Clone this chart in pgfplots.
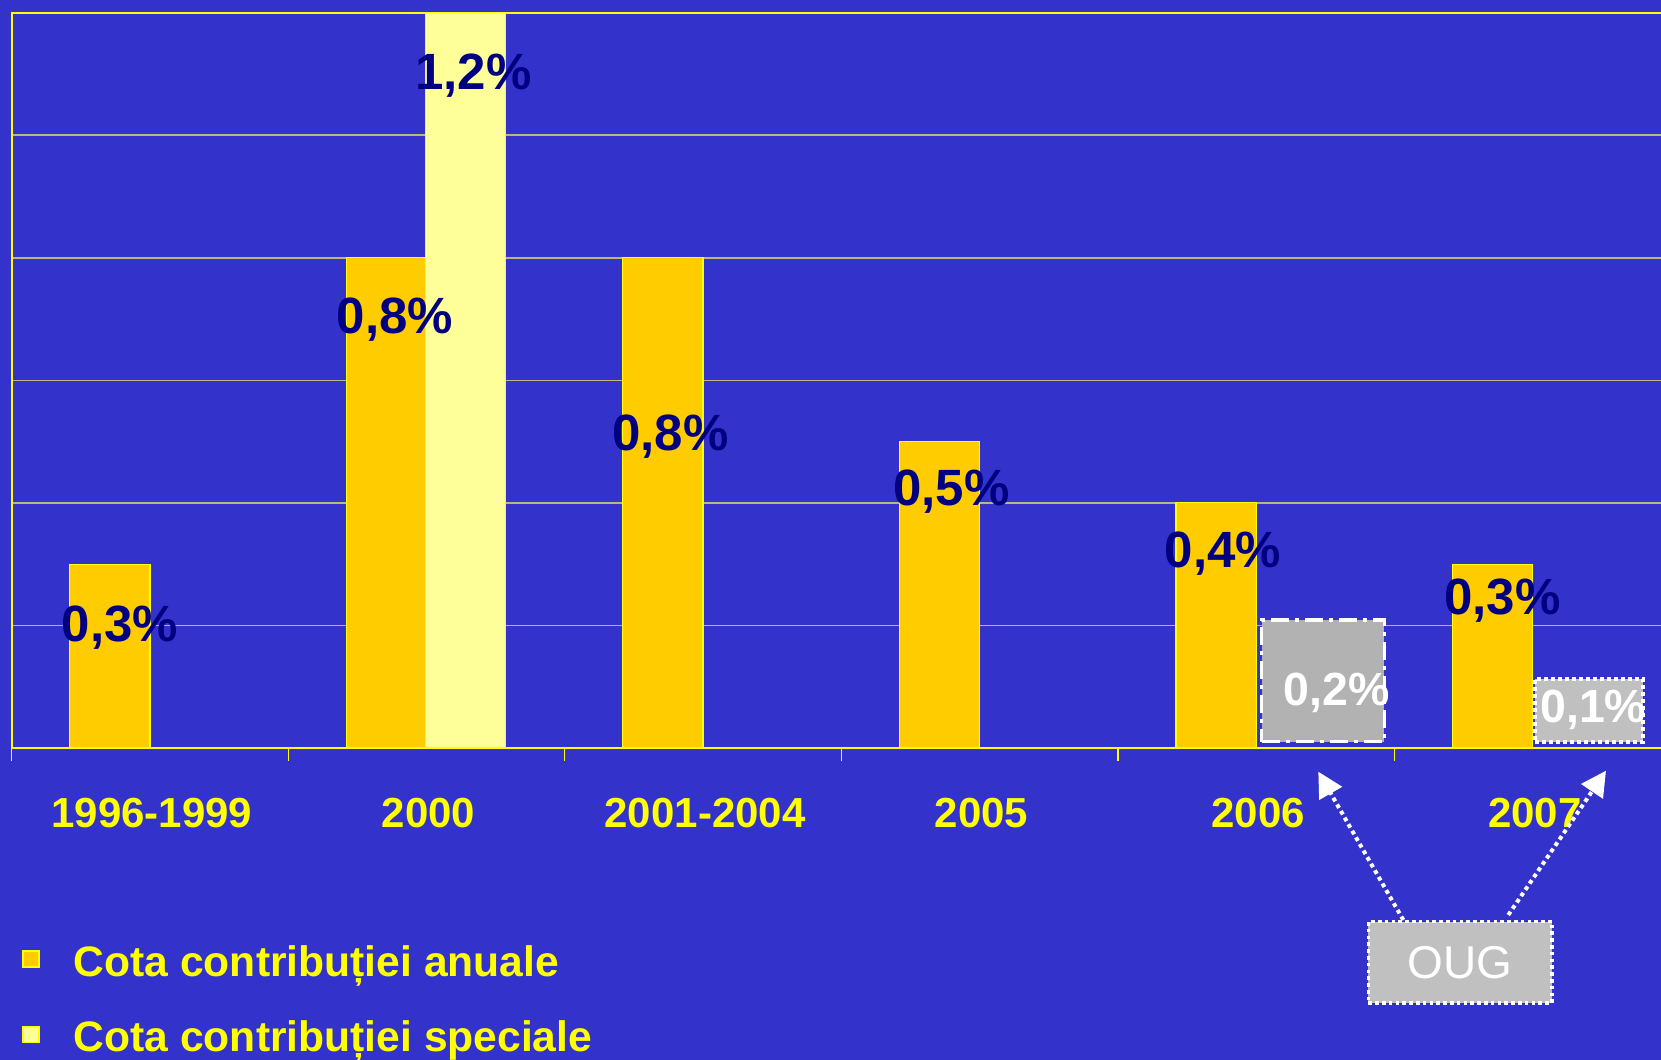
\documentclass[border=0pt]{standalone}
\usepackage{pgfplots}
\pgfplotsset{compat=1.18}
\usepackage{fontspec}
\setmainfont{Liberation Sans}
\usetikzlibrary{arrows.meta}
\definecolor{bgblue}{HTML}{3333CC}
\definecolor{annual}{HTML}{FFCC00}
\definecolor{special}{HTML}{FFFF99}
\definecolor{navy}{HTML}{000080}
\definecolor{yel}{HTML}{FFFF00}
\definecolor{gridcol}{HTML}{BDB677}
\definecolor{gA}{HTML}{B2B2B2}
\definecolor{gB}{HTML}{C0C0C0}
\begin{document}
\begin{tikzpicture}
\fill[bgblue] (0,0) rectangle (830.5pt,530pt);
\begin{axis}[
  at={(5.85pt,156pt)}, anchor=south west,
  scale only axis, width=829.65pt, height=367.65pt,
  xmin=-0.5, xmax=5.5, ymin=0, ymax=1.2,
  ytick={0.2,0.4,0.6,0.8,1.0}, yticklabels={},
  ymajorgrids, grid style={gridcol, line width=0.8pt},
  ytick style={draw=none},
  xtick={0,1,2,3,4,5},
  xticklabels={1996-1999,2000,2001-2004,2005,2006,2007},
  minor xtick={-0.5,0.5,1.5,2.5,3.5,4.5,5.5},
  xtick pos=bottom, ytick pos=left,
  tick align=outside,
  major tick length=0pt,
  minor tick length=6.4pt,
  minor x tick style={yel, line width=0.7pt},
  major x tick style={draw=none},
  axis line style={yel, line width=0.9pt},
  xticklabel style={font=\fontsize{21}{21}\selectfont\bfseries, text=yel, anchor=center, yshift=-32.25pt, xshift=1pt, inner sep=0pt, text height=15pt, text depth=0pt},
  clip=false,
  legend style={at={(axis description cs:0.0064,-0.2687)}, anchor=north west, draw=none, fill=none, inner sep=0pt, outer sep=0pt,
    font=\fontsize{21.3}{21.3}\selectfont\bfseries, text=yel, row sep=22.35pt, column sep=17pt,
    nodes={inner sep=0pt, text height=15.25pt, text depth=0pt}},
  legend cell align=left,
  legend image code/.code={\draw[#1, line width=0.75pt] (0pt,-3.15pt) rectangle (8pt,4.85pt);},
]
\addplot[ybar, bar width=0.29, bar shift=-0.145, fill=annual, draw=yel, line width=0.6pt]
  coordinates {(0,0.3) (1,0.8) (2,0.8) (3,0.5) (4,0.4) (5,0.3)};
\addlegendentry{Cota contribuției anuale}
\addplot[ybar, bar width=0.29, bar shift=0.142, fill=special, draw=yel, line width=0.6pt]
  coordinates {(1,1.2)};
\addlegendentry{Cota contribuției speciale}
% special contributions by OUG (2006, 2007)
\addplot[forget plot, fill=gA, draw=white, line width=1.6pt, dash pattern=on 9pt off 3pt on 2pt off 3pt]
  coordinates {(4.020,0.0106) (4.464,0.0106) (4.464,0.209) (4.020,0.209)} -- cycle;
\addplot[forget plot, fill=gB, draw=none]
  coordinates {(5.008,0.0106) (5.399,0.0106) (5.399,0.1126) (5.008,0.1126)} -- cycle;
% value labels
\tikzset{vlab/.style={font=\fontsize{25.5}{25.5}\selectfont\bfseries, text=navy, inner sep=0pt, text height=18.26pt, text depth=0pt, anchor=center},
         wlab/.style={font=\fontsize{23.25}{23.25}\selectfont\bfseries, text=white, inner sep=0pt, text height=16.65pt, text depth=0pt, anchor=center}}
\node[vlab] at (axis cs:-0.109,0.204) {0,3\%};
\node[vlab] at (axis cs:0.886,0.707) {0,8\%};
\node[vlab] at (axis cs:1.170,1.105) {1,2\%};
\node[vlab] at (axis cs:1.882,0.515) {0,8\%};
\node[vlab] at (axis cs:2.898,0.4255) {0,5\%};
\node[vlab] at (axis cs:3.880,0.325) {0,4\%};
\node[vlab] at (axis cs:4.891,0.247) {0,3\%};
\node[wlab] at (axis cs:4.290,0.096) {0,2\%};
\node[wlab] at (axis cs:5.219,0.0694) {0,1\%};
\addplot[forget plot, fill=none, draw=white, line width=2pt, dash pattern=on 2pt off 1.5pt]
  coordinates {(5.008,0.0106) (5.399,0.0106) (5.399,0.1126) (5.008,0.1126)} -- cycle;
\end{axis}
\begin{scope}[shift={(0pt,530pt)}, x=0.5pt, y=-0.5pt]
\draw[white, line width=2pt, dash pattern=on 2pt off 1.8pt, -{Triangle[width=12.75pt,length=12.5pt]}] (1403.3,920) -- (1318.3,771.7);
\draw[white, line width=2pt, dash pattern=on 2pt off 1.8pt, -{Triangle[width=12.75pt,length=12.5pt]}] (1508.3,915) -- (1606,770.7);
\node[fill=gB, draw=white, line width=1.8pt, dash pattern=on 1.8pt off 1.6pt, minimum width=91.7pt, minimum height=40.8pt, inner sep=0pt,
  font=\fontsize{23}{23}\selectfont, text=white, text height=16.5pt, text depth=0pt] at (1460,962.5) {OUG};
\end{scope}
\pgfresetboundingbox
\path[use as bounding box] (0,0) rectangle (830.5pt,530pt);
\end{tikzpicture}
\end{document}
